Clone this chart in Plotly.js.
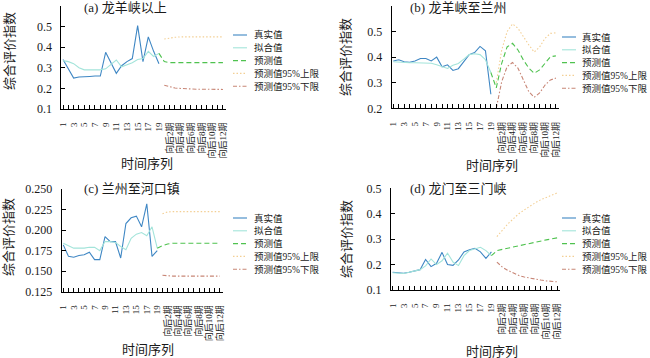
<!DOCTYPE html>
<html>
<head>
<meta charset="utf-8">
<script src="https://cdn.plot.ly/plotly-3.0.1.min.js"></script>
<style>
  html, body { margin: 0; padding: 0; background: #fff; }
  #chart { width: 650px; height: 358px; }
</style>
</head>
<body>
<div id="chart"></div>
<script>
// ---------------- data ----------------
const categories = ['1','2','3','4','5','6','7','8','9','10','11','12','13','14','15','16','17','18','19',
  '向后1期','向后2期','向后3期','向后4期','向后5期','向后6期','向后7期','向后8期','向后9期','向后10期','向后11期','向后12期'];
const tickLabels = ['1','','3','','5','','7','','9','','11','','13','','15','','17','','19',
  '','向后2期','','向后4期','','向后6期','','向后8期','','向后10期','','向后12期'];
const seriesNames = ['真实值','拟合值','预测值','预测值95%上限','预测值95%下限'];
const regionTitles = ['(a) 龙羊峡以上','(b) 龙羊峡至兰州','(c) 兰州至河口镇','(d) 龙门至三门峡'];
const yTitle = '综合评价指数';
const xTitle = '时间序列';

// (a) 龙羊峡以上
const realA  = [0.34,0.295,0.25,0.255,0.255,0.258,0.26,0.26,0.375,0.32,0.273,0.31,0.33,0.345,0.505,0.33,0.45,0.38,0.32];
const fitA   = [0.335,0.33,0.32,0.30,0.29,0.29,0.29,0.29,0.295,0.315,0.338,0.305,0.315,0.325,0.34,0.345,0.38,0.355,0.37];
const predA  = [0.37,0.33,0.325,0.325,0.325,0.325,0.325,0.325,0.325,0.325,0.325,0.325,0.325];
const upperA = [0.44,0.445,0.448,0.45,0.45,0.45,0.45,0.45,0.45,0.45,0.45,0.45];
const lowerA = [0.215,0.207,0.202,0.2,0.198,0.197,0.196,0.196,0.195,0.195,0.195,0.195];

// (b) 龙羊峡至兰州
const realB  = [0.385,0.39,0.382,0.38,0.385,0.395,0.395,0.385,0.40,0.362,0.37,0.348,0.355,0.385,0.41,0.418,0.442,0.425,0.255];
const fitB   = [0.382,0.38,0.378,0.378,0.378,0.378,0.378,0.376,0.37,0.362,0.356,0.368,0.375,0.392,0.41,0.413,0.41,0.39,0.34];
const predB  = [0.34,0.28,0.376,0.44,0.454,0.428,0.389,0.357,0.337,0.35,0.376,0.402,0.405];
const upperB = [0.30,0.428,0.50,0.53,0.513,0.48,0.448,0.42,0.44,0.474,0.493,0.495];
const lowerB = [0.20,0.304,0.363,0.379,0.357,0.311,0.265,0.243,0.26,0.291,0.311,0.318];

// (c) 兰州至河口镇
const realC  = [0.182,0.168,0.167,0.169,0.170,0.173,0.164,0.164,0.192,0.186,0.186,0.166,0.208,0.215,0.217,0.204,0.232,0.168,0.175];
const fitC   = [0.184,0.181,0.178,0.178,0.178,0.179,0.179,0.175,0.186,0.186,0.185,0.18,0.176,0.19,0.195,0.197,0.193,0.204,0.178];
const predC  = [0.178,0.181,0.183,0.184,0.184,0.184,0.184,0.184,0.184,0.184,0.184,0.184,0.184];
const upperC = [0.220,0.222,0.2225,0.2225,0.2225,0.2225,0.2225,0.2225,0.2225,0.2225,0.2225,0.2225];
const lowerC = [0.145,0.1442,0.144,0.144,0.144,0.144,0.144,0.144,0.144,0.144,0.144,0.144];

// (d) 龙门至三门峡
const realD  = [0.17,0.168,0.166,0.17,0.176,0.18,0.22,0.192,0.205,0.248,0.2,0.197,0.218,0.25,0.258,0.264,0.25,0.224,0.25];
const fitD   = [0.168,0.166,0.165,0.17,0.175,0.18,0.195,0.222,0.2,0.215,0.245,0.21,0.196,0.235,0.255,0.262,0.268,0.255,0.235];
const predD  = [0.235,0.255,0.26,0.265,0.27,0.275,0.28,0.284,0.288,0.293,0.297,0.301,0.305];
const upperD = [0.31,0.335,0.36,0.38,0.40,0.415,0.43,0.443,0.455,0.465,0.474,0.482];
const lowerD = [0.21,0.19,0.177,0.166,0.157,0.151,0.146,0.142,0.139,0.136,0.134,0.132];

// ---------------- styles / layout constants ----------------
const W = 650, H = 358;
const FONT = "Liberation Serif, Times New Roman, Noto Sans CJK SC, serif";
const styles = [
  {color:'#3f87c4', dash:'solid'},
  {color:'#a3e4da', dash:'solid'},
  {color:'#4fc24f', dash:'5px,3px'},
  {color:'#f3cf94', dash:'1.5px,2px'},
  {color:'#c88676', dash:'4px,2px,1.5px,2px'}
];
const panels = [
  {l:61.4, r:225.6, t:6,     b:109,   yr:[0.1,0.6],    dt:0.1,   fmt:'.1f'},
  {l:391.7,r:558.6, t:6,     b:108.3, yr:[0.2,0.6],    dt:0.1,   fmt:'.1f'},
  {l:61.7, r:222.5, t:189,   b:291.7, yr:[0.125,0.25], dt:0.025, fmt:'.3f'},
  {l:391.0,r:560.0, t:188.3, b:290,   yr:[0.1,0.5],    dt:0.1,   fmt:'.1f'}
];
const titlePos  = [{x:82,y:8},{x:408,y:8},{x:82,y:188},{x:408,y:188}];
const yTitlePos = [{x:10,y:51},{x:346,y:57},{x:8,y:237},{x:346,y:239}];
const xTitlePos = [{x:147,y:163},{x:492,y:165},{x:148,y:349},{x:492,y:351}];
const legendPos = [{sx:233,tx:252,y:35},{sx:562,tx:580,y:37},{sx:233,tx:252,y:218},{sx:562,tx:580,y:218}];
const legendDy = 12.8, sampleLen = 14;

const px = x => x / W;
const py = y => 1 - y / H;

const datasets = [
  [realA, fitA, predA, upperA, lowerA],
  [realB, fitB, predB, upperB, lowerB],
  [realC, fitC, predC, upperC, lowerC],
  [realD, fitD, predD, upperD, lowerD]
];
const xSets = [categories.slice(0,19), categories.slice(0,19), categories.slice(18), categories.slice(19), categories.slice(19)];

const traces = [];
const layout = {
  width: W, height: H,
  margin: {l:0, r:0, t:0, b:0},
  paper_bgcolor: '#fff', plot_bgcolor: '#fff',
  showlegend: false,
  font: {family: FONT, color: '#1a1a1a', size: 11},
  annotations: [], shapes: []
};

panels.forEach((p, i) => {
  const n = i + 1;
  const xa = 'xaxis' + (n === 1 ? '' : n), ya = 'yaxis' + (n === 1 ? '' : n);
  const xr = 'x' + (n === 1 ? '' : n), yr = 'y' + (n === 1 ? '' : n);
  datasets[i].forEach((vals, k) => {
    traces.push({
      type: 'scatter', mode: 'lines', x: xSets[k], y: vals,
      name: seriesNames[k], xaxis: xr, yaxis: yr,
      line: {color: styles[k].color, width: 1.1, dash: styles[k].dash},
      hoverinfo: 'skip'
    });
  });
  layout[xa] = {
    domain: [px(p.l), px(p.r)], anchor: yr,
    type: 'category', categoryorder: 'array', categoryarray: categories,
    range: [-0.3, 30.5],
    tickmode: 'array', tickvals: categories, ticktext: tickLabels,
    tickangle: -90, ticks: 'inside', ticklen: 4, tickwidth: 1, tickcolor: '#000',
    ticklabelstandoff: 9,
    showline: true, linecolor: '#000', linewidth: 1,
    showgrid: false, zeroline: false,
    tickfont: {family: FONT, size: 9, color: '#1a1a1a'}
  };
  layout[ya] = {
    domain: [py(p.b), py(p.t)], anchor: xr,
    range: p.yr, dtick: p.dt, tick0: p.yr[0], tickformat: p.fmt,
    ticks: 'inside', ticklen: 4, tickwidth: 1, tickcolor: '#000',
    ticklabelstandoff: 6,
    showline: true, linecolor: '#000', linewidth: 1,
    showgrid: false, zeroline: false,
    tickfont: {family: FONT, size: 12, color: '#1a1a1a'}
  };
  layout.annotations.push({
    text: regionTitles[i], xref:'paper', yref:'paper',
    x: px(titlePos[i].x), y: py(titlePos[i].y), xanchor:'left', yanchor:'middle',
    showarrow:false, font:{family:FONT, size:13, color:'#1a1a1a'}
  });
  layout.annotations.push({
    text: yTitle, xref:'paper', yref:'paper', textangle:-90,
    x: px(yTitlePos[i].x), y: py(yTitlePos[i].y), xanchor:'center', yanchor:'middle',
    showarrow:false, font:{family:FONT, size:13, color:'#1a1a1a'}
  });
  layout.annotations.push({
    text: xTitle, xref:'paper', yref:'paper',
    x: px(xTitlePos[i].x), y: py(xTitlePos[i].y), xanchor:'center', yanchor:'middle',
    showarrow:false, font:{family:FONT, size:13, color:'#1a1a1a'}
  });
  const lp = legendPos[i];
  seriesNames.forEach((name, k) => {
    const yy = lp.y + k * legendDy;
    layout.shapes.push({
      type:'line', xref:'paper', yref:'paper',
      x0: px(lp.sx), x1: px(lp.sx + sampleLen), y0: py(yy), y1: py(yy),
      line:{color: styles[k].color, width: 1.1, dash: styles[k].dash}
    });
    layout.annotations.push({
      text: name, xref:'paper', yref:'paper',
      x: px(lp.tx), y: py(yy), xanchor:'left', yanchor:'middle',
      showarrow:false, font:{family:FONT, size:9.5, color:'#1a1a1a'}
    });
  });
});

Plotly.newPlot('chart', traces, layout, {staticPlot: true, displayModeBar: false});
</script>
</body>
</html>
